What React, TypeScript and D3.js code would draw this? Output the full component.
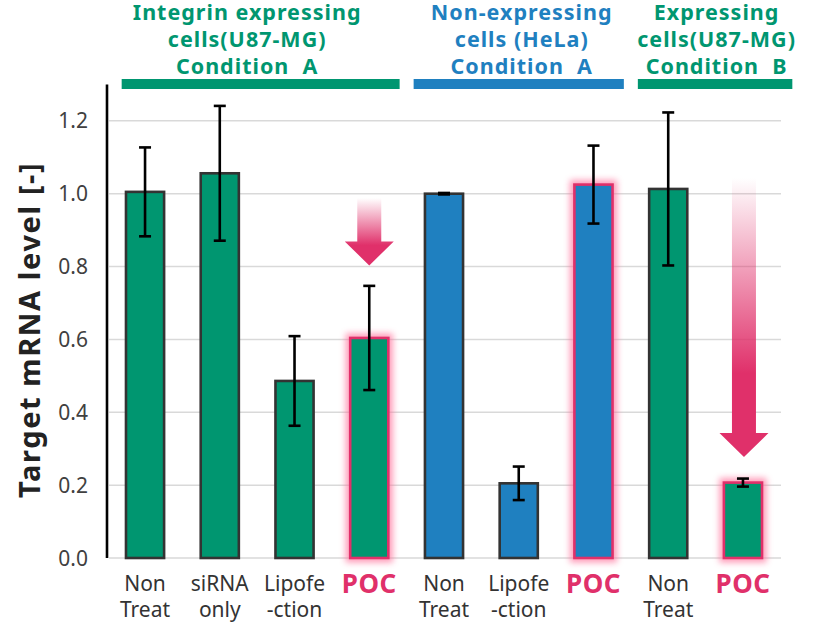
import React from "react";
import * as d3 from "d3";

// bar labels (two lines each), values and error (±)
const labels: string[][] = [
  ["Non", "Treat"],
  ["siRNA", "only"],
  ["Lipofe", "-ction"],
  ["POC"],
  ["Non", "Treat"],
  ["Lipofe", "-ction"],
  ["POC"],
  ["Non", "Treat"],
  ["POC"],
];
const values = [1.005, 1.056, 0.486, 0.604, 1.0, 0.205, 1.025, 1.013, 0.207];
const errors = [0.122, 0.185, 0.123, 0.143, 0.002, 0.046, 0.107, 0.21, 0.011];
const groupOf = [0, 0, 0, 0, 1, 1, 1, 2, 2];

const groupTitles: string[][] = [
  ["Integrin expressing", "cells(U87-MG)", "Condition  A"],
  ["Non-expressing", "cells (HeLa)", "Condition  A"],
  ["Expressing", "cells(U87-MG)", "Condition  B"],
];
const groupColors = ["#009670", "#1f80c0", "#009670"];

// down arrows: bar index, from value, to value (tip)
const arrows = [
  { bar: 3, from: 0.988, to: 0.803 },
  { bar: 8, from: 1.043, to: 0.277 },
];

const yTicks = [0, 0.2, 0.4, 0.6, 0.8, 1.0, 1.2];

const W = 816;
const H = 623;
const FONT = "'Noto Sans', 'DejaVu Sans', sans-serif";
const PINK = "#e0306a";

export default function App() {
  const x = d3
    .scaleBand<number>()
    .domain(d3.range(values.length))
    .range([107, 781])
    .paddingInner(0.49)
    .paddingOuter(0.254);
  const y = d3.scaleLinear().domain([0, 1.3]).range([558, 84.4]);
  const bw = x.bandwidth();
  const step = x.step();
  const cx = (i: number) => (x(i) ?? 0) + bw / 2;

  const groups = d3.range(groupTitles.length).map((g) => {
    const idx = groupOf.map((v, i) => (v === g ? i : -1)).filter((i) => i >= 0);
    const first = idx[0];
    const last = idx[idx.length - 1];
    let x0 = cx(first) - step / 2 + 7;
    let x1 = cx(last) + step / 2 - 7;
    if (g === 0) x0 = cx(first) - step / 2 + 14;
    if (g === groupTitles.length - 1) x1 = cx(last) + step / 2 + 12;
    return { x0, x1, mid: (cx(first) + cx(last)) / 2 };
  });
  const titleShift = [-10, 3, 11];

  return (
    <svg width={W} height={H} style={{ position: "absolute", left: 0, top: 0 }} fontFamily={FONT}>
      <defs>
        <filter id="glow" x="-50%" y="-50%" width="200%" height="200%">
          <feGaussianBlur stdDeviation="3" />
        </filter>
        {arrows.map((a, i) => (
          <linearGradient
            key={i}
            id={"arrowGrad" + i}
            gradientUnits="userSpaceOnUse"
            x1="0"
            x2="0"
            y1={y(a.from)}
            y2={y(a.to)}
          >
            <stop offset="0" stopColor={PINK} stopOpacity="0" />
            <stop offset="0.7" stopColor={PINK} stopOpacity="1" />
            <stop offset="1" stopColor={PINK} stopOpacity="1" />
          </linearGradient>
        ))}
      </defs>

      {/* grid */}
      {yTicks.map((t) => (
        <line key={t} x1={109} x2={781} y1={y(t)} y2={y(t)} stroke="#d9d9d9" strokeWidth={1.5} />
      ))}

      {/* y tick labels */}
      {yTicks.map((t) => (
        <text key={t} x={88} y={y(t)} dy="0.36em" textAnchor="end" fontSize={21} fill="#404040">
          {t.toFixed(1)}
        </text>
      ))}

      {/* y title */}
      <text
        transform={`translate(40,${y(0.626)}) rotate(-90)`}
        textAnchor="middle"
        fontSize={29}
        fontWeight="bold"
        letterSpacing={1.6}
        fill="#222"
      >
        Target mRNA level [-]
      </text>

      {/* bars */}
      {values.map((v, i) => {
        const poc = labels[i][0] === "POC";
        const fill = groupColors[groupOf[i]];
        return (
          <g key={i}>
            {poc && (
              <rect
                x={x(i)}
                y={y(v)}
                width={bw}
                height={y(0) - y(v)}
                fill="none"
                stroke="#ff6f9a"
                strokeWidth={9}
                opacity={0.7}
                filter="url(#glow)"
              />
            )}
            <rect
              x={x(i)}
              y={y(v)}
              width={bw}
              height={y(0) - y(v)}
              fill={fill}
              stroke={poc ? PINK : "#333"}
              strokeWidth={2.6}
            />
          </g>
        );
      })}

      {/* error bars */}
      {values.map((v, i) => {
        const c = cx(i);
        const top = y(v + errors[i]);
        const bot = y(v - errors[i]);
        return (
          <g key={i} stroke="#000" strokeWidth={2.6}>
            <line x1={c} x2={c} y1={top} y2={bot} />
            <line x1={c - 6} x2={c + 6} y1={top} y2={top} />
            <line x1={c - 6} x2={c + 6} y1={bot} y2={bot} />
          </g>
        );
      })}

      {/* y axis */}
      <line x1={107} x2={107} y1={y(1.3)} y2={y(0)} stroke="#000" strokeWidth={2.6} />

      {/* arrows */}
      {arrows.map((a, i) => {
        const c = cx(a.bar) + (i === 0 ? 0 : 1);
        const top = y(a.from);
        const tip = y(a.to);
        const headH = 24;
        const sw = 12;
        const hw = 24.5;
        const p = d3.path();
        p.moveTo(c - sw, top);
        p.lineTo(c + sw, top);
        p.lineTo(c + sw, tip - headH);
        p.lineTo(c + hw, tip - headH);
        p.lineTo(c, tip);
        p.lineTo(c - hw, tip - headH);
        p.lineTo(c - sw, tip - headH);
        p.closePath();
        return <path key={i} d={p.toString()} fill={`url(#arrowGrad${i})`} />;
      })}

      {/* x labels */}
      {labels.map((l, i) =>
        l[0] === "POC" ? (
          <text
            key={i}
            x={cx(i)}
            y={593}
            textAnchor="middle"
            fontSize={26}
            fontWeight="bold"
            letterSpacing={0.5}
            fill={PINK}
          >
            POC
          </text>
        ) : (
          <text key={i} x={cx(i)} textAnchor="middle" fontSize={21} fill="#333">
            {l.map((s, j) => (
              <tspan key={j} x={cx(i)} y={591 + j * 26}>
                {s}
              </tspan>
            ))}
          </text>
        )
      )}

      {/* group headers */}
      {groups.map((g, gi) => (
        <g key={gi}>
          <rect x={g.x0} y={79} width={g.x1 - g.x0} height={10} fill={groupColors[gi]} />
          <text
            textAnchor="middle"
            fontSize={21.5}
            fontWeight="bold"
            letterSpacing={1}
            fill={groupColors[gi]}
            style={{ whiteSpace: "pre" }}
          >
            {groupTitles[gi].map((s, j) => (
              <tspan key={j} x={g.mid + titleShift[gi]} y={20 + j * 27}>
                {s}
              </tspan>
            ))}
          </text>
        </g>
      ))}
    </svg>
  );
}
